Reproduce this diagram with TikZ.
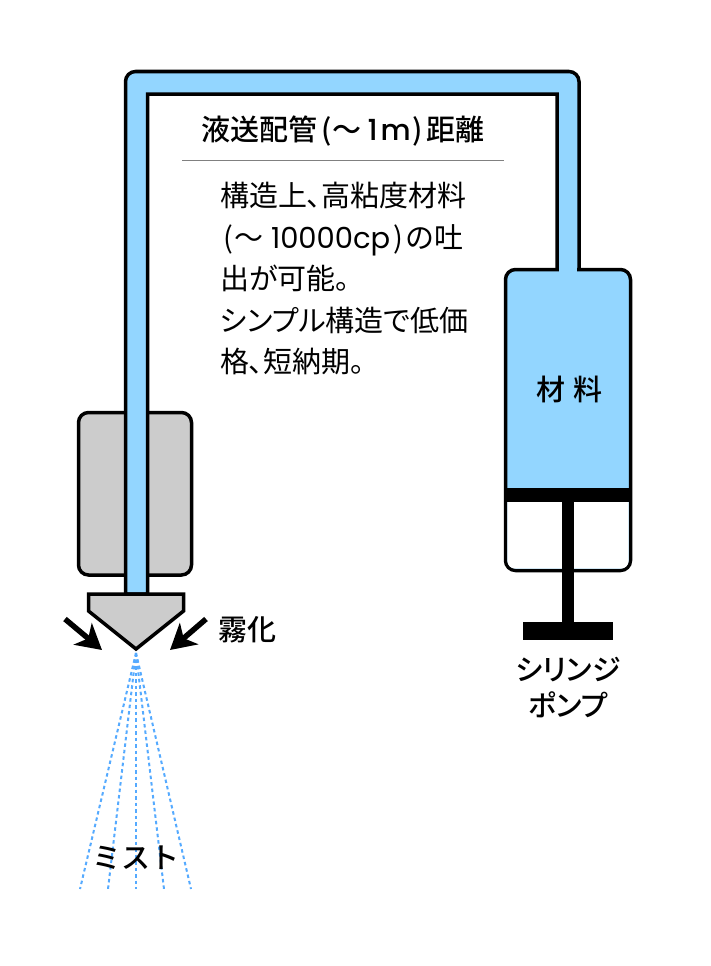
\documentclass[tikz,border=0pt]{standalone}
\usepackage{fontspec}
\setmainfont[RawFeature=+palt]{Noto Sans CJK JP}
\newfontfamily\heavyfont[RawFeature=+palt]{Noto Sans CJK JP Medium}
\newfontfamily\plainfont{Noto Sans CJK JP Medium}
\newfontfamily\latinfont{Poppins}
\newfontfamily\latinheavy{Poppins Medium}
\usetikzlibrary{arrows.meta}
\definecolor{pipeblue}{HTML}{93D6FF}
\definecolor{headgray}{HTML}{CCCCCC}
\definecolor{mistblue}{HTML}{55AAFF}
\tikzset{
	outline/.style={draw=black, line width=3.5pt, line join=miter},
	mist/.style={draw=mistblue, line width=2pt, dash pattern=on 3.5pt off 3pt},
	atom/.style={-{Stealth[length=25pt,width=28pt,inset=7pt]}, line width=5.5pt},
	label/.style={inner sep=0pt, font=\heavyfont\fontsize{29}{29}\selectfont},
}
\begin{document}
\begin{tikzpicture}[x=1pt,y=-1pt]
		\useasboundingbox (0, 0) rectangle (710, 966);
		%%%%%%%%%%%%%
		\filldraw[fill = headgray, outline, rounded corners=10pt] (78.5, 412.5) rectangle (191.5, 575);
		%%%%%%%%%%%%%
		\filldraw[fill = pipeblue, outline] (125.5, 594) [rounded corners=10pt] -- (125.5, 71.5) -- (579, 71.5) [sharp corners] -- (579, 270) -- (557, 270) -- (557, 94) -- (147.5, 94) -- (147.5, 594) -- cycle;
		\filldraw[fill = pipeblue, outline, rounded corners=10pt] (505.5, 269.5) rectangle (630.5, 570.5);
		\fill[pipeblue] (558.8, 262) rectangle (577.2, 274);
		\fill[white, rounded corners=8pt] (507.3, 495) rectangle (628.7, 568.7);
		%%%%%%%%%%%%%
		\fill (504, 488) rectangle (632, 502);
		\fill (562, 502) rectangle (574, 625);
		\fill (523, 622) rectangle (613, 640);
		%%%%%%%%%%%%%
		\filldraw[fill = headgray, outline] (88.5, 594) -- (183.5, 594) -- (183.5, 611) -- (136, 649) -- (88.5, 611) -- cycle;
		%%%%%%%%%%%%%
		\coordinate (tip) at (136, 653);
		\coordinate (m1) at (80, 889);
		\coordinate (m2) at (108, 889);
		\coordinate (m3) at (136, 889);
		\coordinate (m4) at (164, 889);
		\coordinate (m5) at (191, 889);
		\draw[mist] (tip) -- (m1);
		\draw[mist] (tip) -- (m2);
		\draw[mist] (tip) -- (m3);
		\draw[mist] (tip) -- (m4);
		\draw[mist] (tip) -- (m5);
		%%%%%%%%%%%%%
		\coordinate (la) at (65, 619);
		\coordinate (lb) at (102, 650);
		\coordinate (ra) at (206, 619);
		\coordinate (rb) at (170, 650);
		\draw[atom] (la) -- (lb);
		\draw[atom] (ra) -- (rb);
		%%%%%%%%%%%%%
		\node[label, anchor=west] (title) at (201, 131) {液送配管\hspace{4pt}(\hspace{1pt}〜\hspace{6pt}{\latinheavy 1\hspace{3pt}m}\hspace{2pt})\hspace{3pt}距離};
		\draw[draw=gray, line width=0.8pt] (182, 160) -- (504, 160);
		\node[inner sep=0pt, anchor=north west, align=left, font=\fontsize{29}{41.5}\selectfont] (body) at (220, 182) {構造上、高粘度材料\\\hspace{3pt}(\hspace{2pt}〜\hspace{7pt}{\latinfont 10000cp}\hspace{3pt})\hspace{3pt}の吐\\出が可能。\\シンプル構造で低価\\格、短納期。};
		\node[label] (material) at (569.5, 389) {材\hspace{8pt}料};
		\node[label, align=center, font=\heavyfont\fontsize{29}{36}\selectfont] (pump) at (568, 687.5) {シリンジ\\ポンプ};
		\node[label] (atomize) at (247.5, 630) {霧化};
		\node[label, font=\plainfont\fontsize{29}{29}\selectfont] (misttext) at (136, 858) {ミスト};
	\end{tikzpicture}
\end{document}
